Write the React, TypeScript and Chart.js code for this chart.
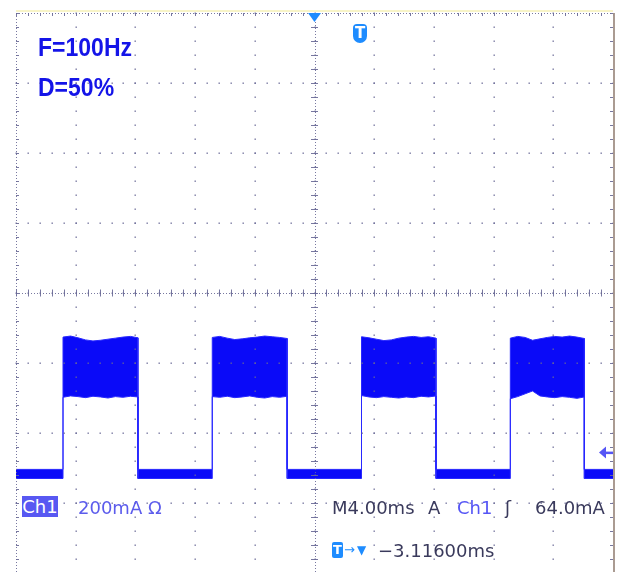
import React, { useEffect, useRef } from 'react';
import { Chart, registerables } from 'chart.js';

Chart.register(...registerables);

// ---- axis values (time in ms, current in mA) ----
const timeRangeMs = [0, 40]; // 10 divisions x 4.00 ms
const msPerDiv = 4;
const maPerDiv = 200;
const currentTopMa = 1320; // top graticule line
const currentMinMa = -277.14; // bottom of the visible screen
const triggerLevelMa = 64;
const triggerPosMs = 20;

// ---- signal values ----
const riseMs = [3.15, 13.15, 23.15, 33.12];
const fallMs = [8.17, 18.17, 28.14, 38.08];
const lowTopMa = 16;
const lowBottomMa = -10;
const pulse1Top = [394, 397, 392, 386, 383, 385, 388, 391, 394, 396, 392];
const pulse1Bottom = [222, 226, 224, 221, 225, 223, 220, 224, 222, 225, 223];
const pulse2Top = [393, 396, 391, 387, 389, 392, 394, 397, 395, 393, 390];
const pulse2Bottom = [224, 222, 225, 221, 223, 226, 222, 220, 224, 222, 225];
const pulse3Top = [395, 392, 388, 384, 386, 391, 394, 396, 393, 395, 391];
const pulse3Bottom = [227, 223, 221, 224, 222, 220, 223, 221, 225, 223, 226];
const pulse4Top = [391, 396, 393, 385, 389, 393, 396, 394, 397, 394, 390];
const pulse4Bottom = [218, 224, 232, 240, 226, 223, 221, 224, 222, 219, 223];

const pulseTops = [pulse1Top, pulse2Top, pulse3Top, pulse4Top];
const pulseBottoms = [pulse1Bottom, pulse2Bottom, pulse3Bottom, pulse4Bottom];

function buildEnvelope(upper: boolean) {
  const low = upper ? lowTopMa : lowBottomMa;
  const pts: { x: number; y: number }[] = [{ x: timeRangeMs[0], y: low }];
  for (let i = 0; i < riseMs.length; i++) {
    const vals = upper ? pulseTops[i] : pulseBottoms[i];
    pts.push({ x: riseMs[i], y: low });
    const step = (fallMs[i] - riseMs[i]) / (vals.length - 1);
    vals.forEach((v, k) => pts.push({ x: riseMs[i] + k * step, y: v }));
    pts.push({ x: fallMs[i], y: low });
  }
  pts.push({ x: timeRangeMs[1], y: low });
  return pts;
}

const GRID = 'rgba(105,105,150,0.9)';
const TRIG_BLUE = 'rgb(30,140,255)';

const graticulePlugin = {
  id: 'graticule',
  afterDatasetsDraw(chart: any) {
    const { ctx } = chart;
    const xs = chart.scales.x;
    const ys = chart.scales.y;
    const X = (v: number) => xs.getPixelForValue(v);
    const Y = (v: number) => ys.getPixelForValue(v);
    const xDivs = (timeRangeMs[1] - timeRangeMs[0]) / msPerDiv;
    const yDivs = 8;
    const yBottom = currentTopMa - yDivs * maPerDiv;
    const left = X(timeRangeMs[0]);
    const right = X(timeRangeMs[1]);
    const top = Y(currentTopMa);
    const bottom = Y(yBottom);
    const cx = X(timeRangeMs[0] + (xDivs / 2) * msPerDiv);
    const cy = Y(currentTopMa - (yDivs / 2) * maPerDiv);
    ctx.save();
    // pale top strip
    ctx.fillStyle = 'rgb(248,244,200)';
    ctx.fillRect(left, top - 3, right - left, 2);

    const dot = (px: number, py: number) => {
      ctx.fillRect(Math.round(px) - 0.5, Math.round(py) - 0.5, 1.4, 1.4);
    };
    ctx.fillStyle = GRID;
    // interior major lines with dots at every minor step
    for (let i = 1; i < xDivs; i++) {
      const vx = X(timeRangeMs[0] + i * msPerDiv);
      for (let j = 0; j <= yDivs * 5; j++) dot(vx, Y(currentTopMa - (j * maPerDiv) / 5));
    }
    for (let k = 1; k < yDivs; k++) {
      const hy = Y(currentTopMa - k * maPerDiv);
      for (let j = 0; j <= xDivs * 5; j++) dot(X(timeRangeMs[0] + (j * msPerDiv) / 5), hy);
    }
    // dense dotted center lines and borders
    ctx.strokeStyle = GRID;
    ctx.lineWidth = 1;
    ctx.setLineDash([1, 2]);
    ctx.beginPath();
    ctx.moveTo(Math.round(cx) + 0.5, top);
    ctx.lineTo(Math.round(cx) + 0.5, bottom);
    ctx.moveTo(left, Math.round(cy) + 0.5);
    ctx.lineTo(right, Math.round(cy) + 0.5);
    ctx.moveTo(left, Math.round(top) + 0.5);
    ctx.lineTo(right, Math.round(top) + 0.5);
    ctx.moveTo(Math.round(left) + 0.5, top);
    ctx.lineTo(Math.round(left) + 0.5, bottom);
    ctx.stroke();
    ctx.setLineDash([]);
    // ticks
    ctx.beginPath();
    for (let j = 0; j <= yDivs * 5; j++) {
      const py = Math.round(Y(currentTopMa - (j * maPerDiv) / 5)) + 0.5;
      ctx.moveTo(cx - 3.5, py);
      ctx.lineTo(cx + 3.5, py);
      ctx.moveTo(left, py);
      ctx.lineTo(left + 3, py);
      ctx.moveTo(right - 3, py);
      ctx.lineTo(right, py);
    }
    for (let j = 0; j <= xDivs * 5; j++) {
      const px = Math.round(X(timeRangeMs[0] + (j * msPerDiv) / 5)) + 0.5;
      ctx.moveTo(px, cy - 3.5);
      ctx.lineTo(px, cy + 3.5);
      ctx.moveTo(px, top);
      ctx.lineTo(px, top + 3);
    }
    ctx.stroke();
    // right border
    ctx.strokeStyle = 'rgba(165,150,140,0.95)';
    ctx.lineWidth = 2;
    ctx.beginPath();
    ctx.moveTo(right + 1, top);
    ctx.lineTo(right + 1, bottom);
    ctx.stroke();

    // trigger position marker (top)
    const tx = X(triggerPosMs);
    ctx.fillStyle = TRIG_BLUE;
    ctx.beginPath();
    ctx.moveTo(tx - 6.5, top);
    ctx.lineTo(tx + 6.5, top);
    ctx.lineTo(tx, top + 9);
    ctx.closePath();
    ctx.fill();

    // trigger level arrow (right)
    const ty = Y(triggerLevelMa);
    ctx.fillStyle = 'rgb(85,85,245)';
    ctx.beginPath();
    ctx.moveTo(right - 14, ty);
    ctx.lineTo(right - 7, ty - 6);
    ctx.lineTo(right - 7, ty + 6);
    ctx.closePath();
    ctx.fill();
    ctx.fillRect(right - 8, ty - 1, 8, 2.5);
    ctx.restore();
  },
};

const mono: React.CSSProperties = {
  position: 'absolute',
  fontFamily: '"DejaVu Sans", sans-serif',
  fontSize: 18,
  lineHeight: '18px',
  whiteSpace: 'pre',
  color: 'rgb(58,58,92)',
};

export default function App() {
  const ref = useRef<HTMLCanvasElement>(null);
  useEffect(() => {
    const chart = new Chart(ref.current!, {
      type: 'line',
      data: {
        datasets: [
          {
            label: 'Ch1 low envelope',
            data: buildEnvelope(false),
            borderColor: 'rgb(40,40,255)',
            borderWidth: 1,
            pointRadius: 0,
            fill: false,
          },
          {
            label: 'Ch1 high envelope',
            data: buildEnvelope(true),
            borderColor: 'rgb(40,40,255)',
            borderWidth: 1,
            pointRadius: 0,
            backgroundColor: 'rgb(10,10,248)',
            fill: '-1',
          },
        ],
      },
      options: {
        animation: false,
        responsive: false,
        devicePixelRatio: 1,
        parsing: true,
        layout: { padding: { left: 16, top: 13, right: 12, bottom: 0 } },
        elements: { line: { tension: 0 } },
        scales: {
          x: { type: 'linear', min: timeRangeMs[0], max: timeRangeMs[1], display: false },
          y: { type: 'linear', min: currentMinMa, max: currentTopMa, display: false },
        },
        plugins: { legend: { display: false }, tooltip: { enabled: false } },
      },
      plugins: [graticulePlugin],
    });
    return () => chart.destroy();
  }, []);

  return (
    <div
      style={{
        position: 'fixed',
        left: 0,
        top: 0,
        width: 625,
        height: 572,
        background: '#fff',
        overflow: 'hidden',
      }}
    >
      <canvas
        ref={ref}
        width={625}
        height={572}
        style={{ position: 'absolute', left: 0, top: 0, width: 625, height: 572 }}
      />
      <div
        style={{
          position: 'absolute',
          left: 38,
          top: 34,
          fontFamily: '"Liberation Sans", Arial, sans-serif',
          fontWeight: 'bold',
          fontSize: 26,
          lineHeight: '26px',
          color: 'rgb(20,20,232)',
          transform: 'scaleX(0.885)',
          transformOrigin: 'left top',
          whiteSpace: 'pre',
        }}
      >
        F=100Hz
      </div>
      <div
        style={{
          position: 'absolute',
          left: 38,
          top: 74,
          fontFamily: '"Liberation Sans", Arial, sans-serif',
          fontWeight: 'bold',
          fontSize: 26,
          lineHeight: '26px',
          color: 'rgb(20,20,232)',
          transform: 'scaleX(0.885)',
          transformOrigin: 'left top',
          whiteSpace: 'pre',
        }}
      >
        D=50%
      </div>
      {/* top trigger T marker */}
      <div
        style={{
          position: 'absolute',
          left: 353,
          top: 24,
          width: 14,
          height: 19,
          background: TRIG_BLUE,
          borderRadius: '4px 4px 7px 7px',
          color: '#fff',
          fontFamily: '"DejaVu Sans", sans-serif',
          fontWeight: 'bold',
          fontSize: 15,
          lineHeight: '19px',
          textAlign: 'center',
        }}
      >
        T
      </div>
      {/* bottom readouts */}
      <div
        style={{
          ...mono,
          left: 22,
          top: 496,
          width: 36,
          height: 21,
          lineHeight: '21px',
          background: 'rgb(88,88,242)',
          color: '#fff',
          textAlign: 'center',
        }}
      >
        Ch1
      </div>
      <div style={{ ...mono, left: 78, top: 499, color: 'rgb(92,92,236)' }}>200mA Ω</div>
      <div style={{ ...mono, left: 332, top: 499 }}>M4.00ms</div>
      <div style={{ ...mono, left: 428, top: 499 }}>A</div>
      <div style={{ ...mono, left: 457, top: 499, color: 'rgb(85,85,245)' }}>Ch1</div>
      <div style={{ ...mono, left: 505, top: 499 }}>ʃ</div>
      <div style={{ ...mono, left: 535, top: 499 }}>64.0mA</div>
      <div
        style={{
          position: 'absolute',
          left: 332,
          top: 542,
          width: 11,
          height: 16,
          background: TRIG_BLUE,
          borderRadius: 2,
          color: '#fff',
          fontFamily: '"DejaVu Sans", sans-serif',
          fontWeight: 'bold',
          fontSize: 13,
          lineHeight: '16px',
          textAlign: 'center',
        }}
      >
        T
      </div>
      <div style={{ ...mono, left: 344, top: 541, fontSize: 13, color: TRIG_BLUE }}>→</div>
      <div style={{ ...mono, left: 357, top: 541, fontSize: 12, color: TRIG_BLUE }}>▼</div>
      <div style={{ ...mono, left: 378, top: 542 }}>−3.11600ms</div>
    </div>
  );
}
